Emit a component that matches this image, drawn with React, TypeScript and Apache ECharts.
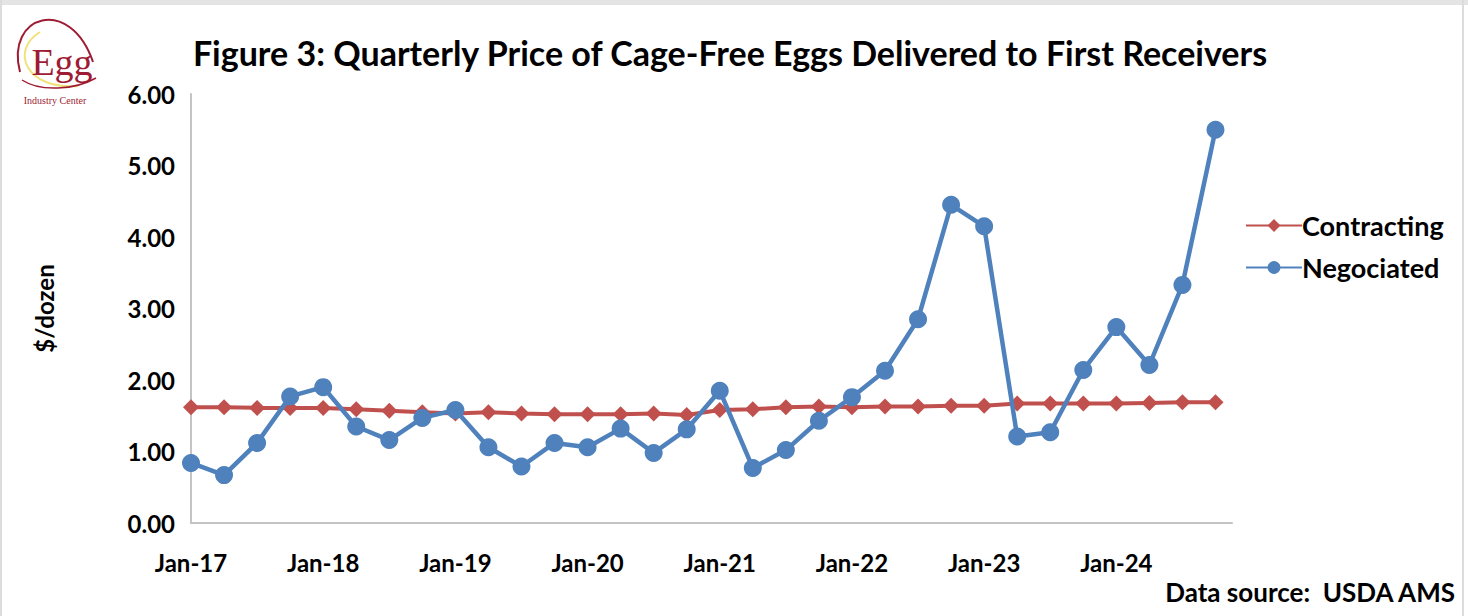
import React, { useEffect, useRef } from "react";
import * as echarts from "echarts";

const quarters = [
  "Jan-17", "Apr-17", "Jul-17", "Oct-17",
  "Jan-18", "Apr-18", "Jul-18", "Oct-18",
  "Jan-19", "Apr-19", "Jul-19", "Oct-19",
  "Jan-20", "Apr-20", "Jul-20", "Oct-20",
  "Jan-21", "Apr-21", "Jul-21", "Oct-21",
  "Jan-22", "Apr-22", "Jul-22", "Oct-22",
  "Jan-23", "Apr-23", "Jul-23", "Oct-23",
  "Jan-24", "Apr-24", "Jul-24", "Oct-24",
];

const contracting = [
  1.62, 1.62, 1.61, 1.61, 1.61, 1.59, 1.57, 1.55,
  1.53, 1.55, 1.53, 1.52, 1.52, 1.52, 1.53, 1.51,
  1.58, 1.59, 1.62, 1.63, 1.62, 1.63, 1.63, 1.64,
  1.64, 1.67, 1.67, 1.67, 1.67, 1.68, 1.69, 1.69,
];

const negociated = [
  0.84, 0.67, 1.12, 1.77, 1.90, 1.35, 1.16, 1.47,
  1.58, 1.06, 0.79, 1.12, 1.06, 1.32, 0.98, 1.31,
  1.85, 0.77, 1.02, 1.43, 1.76, 2.13, 2.85, 4.45,
  4.15, 1.21, 1.27, 2.14, 2.74, 2.21, 3.33, 5.50,
];

const yTicks = [0, 1, 2, 3, 4, 5, 6];

const FONT = "Lato";

export default function App() {
  const ref = useRef<HTMLDivElement>(null);

  useEffect(() => {
    if (!ref.current) return;
    const chart = echarts.init(ref.current, null, { renderer: "svg" });
    const toPairs = (arr: number[]) => arr.map((v, i) => [i, v]);
    chart.setOption({
      animation: false,
      backgroundColor: "#ffffff",
      grid: { left: 191, right: 236, top: 94, bottom: 93, containLabel: false },
      xAxis: {
        type: "value",
        min: 0,
        max: 31.5,
        interval: 4,
        splitLine: { show: false },
        axisTick: { show: false },
        axisLine: { show: true, lineStyle: { color: "#c4c4c4", width: 2 } },
        axisLabel: {
          showMaxLabel: false,
          margin: 27,
          color: "#000",
          fontFamily: FONT,
          fontWeight: "bold",
          fontSize: 24,
          formatter: (v: number) => {
            const i = Math.round(v);
            return Math.abs(v - i) < 1e-6 && i % 4 === 0 && quarters[i] ? quarters[i] : "";
          },
        },
      },
      yAxis: {
        type: "value",
        min: yTicks[0],
        max: yTicks[yTicks.length - 1],
        interval: 1,
        name: "$/dozen",
        nameLocation: "middle",
        nameGap: 135,
        nameRotate: 90,
        nameTextStyle: { color: "#000", fontFamily: FONT, fontWeight: "bold", fontSize: 24 },
        splitLine: { show: false },
        axisTick: { show: false },
        axisLine: { show: true, lineStyle: { color: "#c4c4c4", width: 2 } },
        axisLabel: {
          margin: 16,
          color: "#000",
          fontFamily: FONT,
          fontWeight: "bold",
          fontSize: 24,
          formatter: (v: number) => v.toFixed(2),
        },
      },
      legend: {
        left: 1240,
        top: 207,
        orient: "vertical",
        itemWidth: 56,
        itemHeight: 16,
        itemGap: 15,
        textStyle: { color: "#000", fontFamily: FONT, fontWeight: "bold", fontSize: 27, padding: [0, 0, 0, -5] },
        data: ["Contracting", "Negociated"],
      },
      series: [
        {
          name: "Contracting",
          type: "line",
          data: toPairs(contracting),
          symbol: "diamond",
          symbolSize: 16,
          lineStyle: { color: "#c0504d", width: 4 },
          itemStyle: { color: "#c0504d" },
          z: 2,
        },
        {
          name: "Negociated",
          type: "line",
          data: toPairs(negociated),
          symbol: "circle",
          symbolSize: 18,
          lineStyle: { color: "#4f81bd", width: 4.5 },
          itemStyle: { color: "#4f81bd" },
          z: 3,
        },
      ],
      graphic: [
        { type: "rect", left: 0, top: 0, shape: { width: 1468, height: 5 }, style: { fill: "#e4e4e4" }, silent: true },
        { type: "line", shape: { x1: 1, y1: 0, x2: 1, y2: 616 }, style: { stroke: "#dcdcdc", lineWidth: 2 }, silent: true },
        { type: "line", shape: { x1: 1463, y1: 0, x2: 1463, y2: 616 }, style: { stroke: "#dcdcdc", lineWidth: 2 }, silent: true },
        {
          type: "text",
          x: 730,
          y: 52,
          style: {
            text: "Figure 3: Quarterly Price of Cage-Free Eggs Delivered to First Receivers",
            fill: "#000",
            font: `bold 34px ${FONT}`,
            textAlign: "center",
            textVerticalAlign: "middle",
          },
        },
        {
          type: "text",
          x: 1455,
          y: 592,
          style: {
            text: "Data source:  USDA AMS",
            fill: "#000",
            font: `bold 26px ${FONT}`,
            textAlign: "right",
            textVerticalAlign: "middle",
          },
        },
        // logo
        {
          type: "bezierCurve",
          shape: { x1: 20, y1: 72, cpx1: 5, cpy1: 15, cpx2: 70, cpy2: -5, x2: 93, y2: 62 },
          style: { stroke: "#9e1c33", lineWidth: 2, fill: null },
        },
        {
          type: "bezierCurve",
          shape: { x1: 40, y1: 32, cpx1: 10, cpy1: 50, cpx2: 25, cpy2: 90, x2: 78, y2: 86 },
          style: { stroke: "#f0e27a", lineWidth: 2, fill: null },
        },
        {
          type: "bezierCurve",
          shape: { x1: 22, y1: 80, cpx1: 40, cpy1: 92, cpx2: 75, cpy2: 90, x2: 96, y2: 78 },
          style: { stroke: "#9e1c33", lineWidth: 1.5, fill: null },
        },
        {
          type: "text",
          x: 62,
          y: 62,
          style: {
            text: "Egg",
            fill: "#9e1c33",
            font: "38px 'Liberation Serif'",
            textAlign: "center",
            textVerticalAlign: "middle",
          },
        },
        {
          type: "text",
          x: 55,
          y: 100,
          style: {
            text: "Industry Center",
            fill: "#9e1c33",
            font: "10px 'Liberation Serif'",
            textAlign: "center",
            textVerticalAlign: "middle",
          },
        },
      ],
    });
    return () => chart.dispose();
  }, []);

  return (
    <div
      ref={ref}
      style={{ position: "fixed", left: 0, top: 0, width: 1468, height: 616 }}
    />
  );
}
